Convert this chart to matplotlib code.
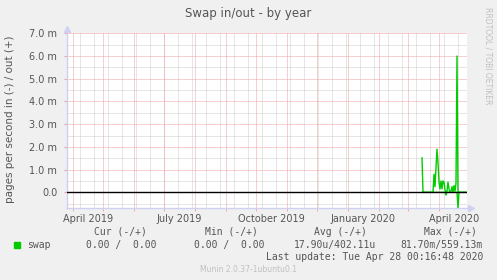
import datetime as dt
import numpy as np
import matplotlib
matplotlib.use("Agg")
import matplotlib.pyplot as plt
import matplotlib.dates as mdates

# daily averages, pages per second (milli units), starting 2020-03-15
start_day = dt.date(2020, 3, 15)
swap_out = [1.52, 0, 0, 0, 0, 0, 0, 0, 0, 0, 0, 0, 0.8, 0.25, 1.1, 1.9, 1.3,
            0.45, 0.15, 0.5, 0.15, 0.5, 0.45, 0.1, 0.0, 0.05, 0.45, 0.15, 0.0,
            0.05, 0.25, 0.0, 0.3, 0.05, 0.4, 6.0, 0.0,
            0, 0, 0, 0, 0, 0, 0, 0]
swap_in = [0, 0, 0, 0, 0, 0, 0, 0, 0, 0, 0, 0, 0, 0, 0, 0, 0,
           0, 0, 0, 0, 0, 0, 0, 0.12, 0, 0, 0, 0,
           0, 0, 0, 0, 0, 0, 0, 0.68,
           0, 0, 0, 0, 0, 0, 0, 0]
days = [start_day + dt.timedelta(days=i) for i in range(len(swap_out))]

y_ticks = [0, 1, 2, 3, 4, 5, 6, 7]
y_labels = ["0.0", "1.0 m", "2.0 m", "3.0 m", "4.0 m", "5.0 m", "6.0 m", "7.0 m"]
x_labels = ["April 2019", "July 2019", "October 2019", "January 2020", "April 2020"]
x_label_days = [dt.date(2019, 4, 16), dt.date(2019, 7, 16), dt.date(2019, 10, 16),
                dt.date(2020, 1, 16), dt.date(2020, 4, 16)]

legend_head = ["Cur (-/+)", "Min (-/+)", "Avg (-/+)", "Max (-/+)"]
legend_vals = ["0.00 /  0.00", "0.00 /  0.00", "17.90u/402.11u", "81.70m/559.13m"]

W, H = 497, 280
fig = plt.figure(figsize=(W / 100, H / 100), dpi=100, facecolor="#f0f0f0")
ax = fig.add_axes([67 / W, 1 - 208 / H, 400 / W, (208 - 33.3) / H])
ax.set_facecolor("white")

x0, x1 = dt.date(2019, 3, 26), dt.date(2020, 4, 29)
ax.set_xlim(x0, x1)
ax.set_ylim(-0.69, 7.0)

dot = (0, (1, 1))
# minor grid: every 2 weeks and every half unit
d = dt.date(2019, 3, 25)
while d < x1:
    if d > x0:
        ax.axvline(d, color="#cccccc", lw=0.72, ls=dot, zorder=1)
    d += dt.timedelta(days=14)
for v in np.arange(-0.5, 7.0, 1.0):
    ax.axhline(v, color="#cccccc", lw=0.72, ls=dot, zorder=1)
# major grid: months and whole units
months = [dt.date(2019 + (3 + i) // 12, (3 + i) % 12 + 1, 1) for i in range(13)]
for m in months:
    ax.axvline(m, color="#f0a0a0", lw=0.72, ls=dot, zorder=2)
for v in y_ticks:
    ax.axhline(v, color="#f0a0a0", lw=0.72, ls=dot, zorder=2)

ax.plot(days, [-v for v in swap_in], color="#00cc00", lw=1.0, zorder=3)
ax.plot(days, swap_out, color="#00cc00", lw=1.0, zorder=3)
ax.axhline(0, color="black", lw=1.0, zorder=4)

for s in ["top", "right"]:
    ax.spines[s].set_visible(False)
for s in ["left", "bottom"]:
    ax.spines[s].set_color("#d0d0f4")
    ax.spines[s].set_linewidth(1.0)
ax.plot([0], [1.025], marker="^", ms=4, color="#d0d0f4", transform=ax.transAxes, clip_on=False)
ax.plot([1.01], [0], marker=">", ms=4, color="#d0d0f4", transform=ax.transAxes, clip_on=False)

ax.set_yticks(y_ticks)
ax.set_yticklabels(y_labels)
ax.tick_params(axis="y", length=2, color="#f0a0a0", labelsize=7, labelcolor="#555555", pad=5)
ax.set_xticks([mdates.date2num(d) for d in x_label_days])
ax.set_xticklabels(x_labels)
ax.set_xticks([mdates.date2num(m) for m in months], minor=True)
ax.tick_params(axis="x", which="major", length=0, labelsize=7, labelcolor="#555555", pad=4)
ax.tick_params(axis="x", which="minor", length=2, color="#f0a0a0")

fig.text(248 / W, 1 - 14 / H, "Swap in/out - by year", ha="center", va="center",
         fontsize=8.5, color="#555555")
fig.text(10 / W, 1 - 119 / H, "pages per second in (-) / out (+)", rotation=90,
         ha="center", va="center", fontsize=7.5, color="#555555")
fig.text(488 / W, 1 - 56 / H, "RRDTOOL / TOBI OETIKER", rotation=-90,
         ha="center", va="center", fontsize=5.5, color="#c0c0c0")

mono = "DejaVu Sans Mono"
head_x = [120, 231, 340, 450]
val_right = [157, 264, 376, 483]
for hx, t in zip(head_x, legend_head):
    fig.text(hx / W, 1 - 232 / H, t, ha="center", va="center", family=mono,
             fontsize=7, color="#555555")
for vx, t in zip(val_right, legend_vals):
    fig.text(vx / W, 1 - 245 / H, t, ha="right", va="center", family=mono,
             fontsize=7, color="#555555")
fig.patches.append(plt.Rectangle((14 / W, 1 - 248 / H), 6 / W, 6 / H,
                                 transform=fig.transFigure, color="#00cc00"))
fig.text(27 / W, 1 - 245 / H, "swap", ha="left", va="center", family=mono,
         fontsize=7, color="#555555")
fig.text(483 / W, 1 - 257 / H, "Last update: Tue Apr 28 00:16:48 2020", ha="right",
         va="center", family=mono, fontsize=7, color="#555555")
fig.text(248 / W, 1 - 269 / H, "Munin 2.0.37-1ubuntu0.1", ha="center", va="center",
         fontsize=5.5, color="#c0c0c0")

fig.savefig("out.png", dpi=100, facecolor=fig.get_facecolor())
